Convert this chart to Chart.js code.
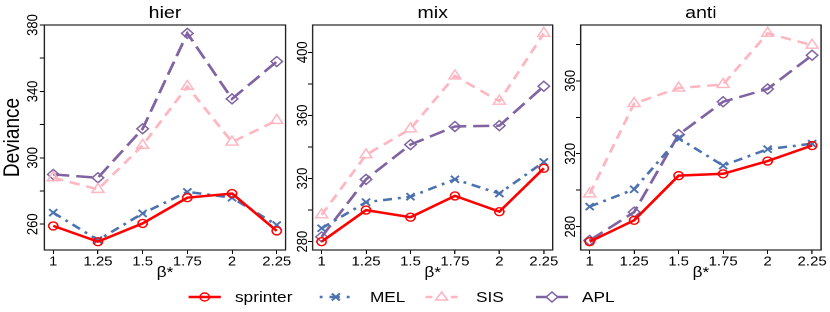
<!DOCTYPE html>
<html><head><meta charset="utf-8">
<script src="https://cdn.jsdelivr.net/npm/chart.js@4.4.1/dist/chart.umd.min.js"></script>
<style>
html,body{margin:0;padding:0;background:#fff;}
#wrap{position:absolute;left:0;top:0;width:722px;height:312px;transform:scaleX(1.15);transform-origin:0 0;overflow:hidden;background:#fff}
canvas{position:absolute;top:0}
.lt{position:absolute;font-family:'Liberation Sans',Arial,sans-serif;font-size:15px;line-height:18px;top:287.7px;color:#000;white-space:nowrap}
svg.ic{position:absolute;top:288.7px;overflow:visible}
</style></head><body>
<div id="wrap">
<canvas id="c1" width="258" height="290" style="left:0px"></canvas>
<canvas id="c2" width="260" height="290" style="left:230px"></canvas>
<canvas id="c3" width="258" height="290" style="left:464px"></canvas>
<div id="legend"></div>
</div>
<script>
// ---- data ----
const betas = [1, 1.25, 1.5, 1.75, 2, 2.25];
const xTickLabels = ['1', '1.25', '1.5', '1.75', '2', '2.25'];
const panelTitles = ['hier', 'mix', 'anti'];
const seriesNames = ['sprinter', 'MEL', 'SIS', 'APL'];

const hierSprinter = [259, 249.5, 260.5, 276, 278.5, 256];
const hierMEL      = [267, 250.5, 266.5, 279.5, 276, 259.5];
const hierSIS      = [288, 281, 307.5, 343, 309.5, 322.5];
const hierAPL      = [290, 288, 317.5, 375, 335.5, 358];

const mixSprinter = [280, 300, 295.5, 309, 299, 326.5];
const mixMEL      = [288.5, 305, 308.5, 319.5, 310.5, 330.5];
const mixSIS      = [297, 335, 351.5, 385, 369, 412];
const mixAPL      = [283, 319.5, 341.5, 353, 353.5, 378.5];

const antiSprinter = [271.8, 283.5, 308, 309, 316, 324.5];
const antiMEL      = [291, 300.5, 328.5, 313.5, 322.5, 325.5];
const antiSIS      = [298, 347.5, 356, 358, 386, 379.5];
const antiAPL      = [272.5, 288, 330.5, 348.5, 355.5, 374];

const hierYTicks  = [260, 280, 300, 320, 340, 360, 380];
const hierYLabels = ['260', '', '300', '', '340', '', '380'];
const mixYTicks   = [280, 300, 320, 340, 360, 380, 400];
const mixYLabels  = ['280', '', '320', '', '360', '', '400'];
const antiYTicks  = [280, 300, 320, 340, 360, 380];
const antiYLabels = ['280', '', '320', '', '360', ''];

// ---- styles ----
Chart.defaults.font.family = "'Liberation Sans', Arial, sans-serif";
Chart.defaults.color = '#000';
const colors = ['#FF0000', '#4C72B0', '#FFB6C1', '#8064A2'];
const styles = [
  {borderDash: [], pointStyle: 'circle', pointRadius: 4, pointBorderWidth: 1.4},
  {borderDash: [8, 5, 2.5, 5], pointStyle: 'crossRot', pointRadius: 5, pointBorderWidth: 1.8},
  {borderDash: [9, 6], pointStyle: 'triangle', pointRadius: 6, pointBorderWidth: 1.4},
  {borderDash: [14, 6], pointStyle: 'rectRot', pointRadius: 5, pointBorderWidth: 1.4}
];

const boxPlugin = {
  id: 'box',
  afterDraw(chart) {
    const {ctx, chartArea: a} = chart;
    ctx.save();
    ctx.strokeStyle = '#222';
    ctx.lineWidth = 1.2;
    ctx.strokeRect(a.left, a.top, a.right - a.left, a.bottom - a.top);
    ctx.restore();
  }
};

function makePanel(id, title, series, yTicks, yLabels, showYTitle, yWidth, rightPad, yPad) {
  const all = series.flat();
  const lo = Math.min(...all), hi = Math.max(...all), r = hi - lo;
  const datasets = series.map((vals, i) => Object.assign({
    label: seriesNames[i],
    data: vals.map((v, j) => ({x: betas[j], y: v})),
    borderColor: colors[i],
    pointBorderColor: colors[i],
    pointBackgroundColor: 'rgba(0,0,0,0)',
    backgroundColor: 'rgba(0,0,0,0)',
    borderWidth: 2.5,
    tension: 0,
    fill: false,
    clip: false
  }, styles[i]));
  const grid = {display: true, drawOnChartArea: false, drawTicks: true, tickLength: 4, color: '#000', lineWidth: 1};
  new Chart(document.getElementById(id), {
    type: 'line',
    data: {datasets},
    options: {
      responsive: false, animation: false, devicePixelRatio: 2,
      layout: {padding: {left: 0, right: rightPad, top: 0, bottom: 0}},
      plugins: {
        legend: {display: false}, tooltip: {enabled: false},
        title: {display: true, text: title, fullSize: false, font: {size: 17, weight: 'normal'}, color: '#000', padding: {top: 3, bottom: 1.6}}
      },
      scales: {
        x: {
          type: 'linear', min: 0.95, max: 2.3,
          afterBuildTicks: s => { s.ticks = betas.map(v => ({value: v})); },
          afterFit: s => { s.height = 40; },
          ticks: {autoSkip: false, maxRotation: 0, padding: 0, color: '#000', font: {size: 13}, callback: (v, i) => xTickLabels[i]},
          grid: grid,
          border: {display: false},
          title: {display: true, text: 'β*', font: {size: 15}, color: '#000', padding: {top: 0, bottom: 8}}
        },
        y: {
          type: 'linear', min: lo - 0.04 * r, max: hi + 0.04 * r,
          afterBuildTicks: s => { s.ticks = yTicks.map(v => ({value: v})); },
          afterFit: s => { s.width = yWidth; },
          ticks: {autoSkip: false, minRotation: 90, maxRotation: 90, crossAlign: 'center', padding: yPad, color: '#000', font: {size: 13}, callback: (v, i) => yLabels[i]},
          grid: grid,
          border: {display: false},
          title: {display: showYTitle, text: 'Deviance', font: {size: 19}, color: '#000', padding: 0}
        }
      }
    },
    plugins: [boxPlugin]
  });
}

makePanel('c1', panelTitles[0], [hierSprinter, hierMEL, hierSIS, hierAPL], hierYTicks, hierYLabels, true, 38.5, 9.6, -5.3);
makePanel('c2', panelTitles[1], [mixSprinter, mixMEL, mixSIS, mixAPL], mixYTicks, mixYLabels, false, 41.9, 9.4, -6.3);
makePanel('c3', panelTitles[2], [antiSprinter, antiMEL, antiSIS, antiAPL], antiYTicks, antiYLabels, false, 41, 8.1, -6.3);

// ---- legend ----
const legendIconLeft = [163.5, 277.8, 370.4, 465.7];
const legendTextLeft = [204.3, 321.7, 413.9, 506.1];
const iconDash = ['', '2.5 6 9 6 2.5', '6 5', '12 4'];
const lg = document.getElementById('legend');
seriesNames.forEach((name, i) => {
  const c = colors[i];
  let marker = '';
  if (i === 0) marker = `<circle cx="14" cy="8" r="4" fill="none" stroke="${c}" stroke-width="1.5"/>`;
  if (i === 1) marker = `<path d="M10.5 4.5 L17.5 11.5 M17.5 4.5 L10.5 11.5" stroke="${c}" stroke-width="1.8" fill="none"/>`;
  if (i === 2) marker = `<polygon points="14,3 19.2,11 8.8,11" fill="#fff" stroke="${c}" stroke-width="1.4"/>`;
  if (i === 3) marker = `<polygon points="14,3 19,8 14,13 9,8" fill="#fff" stroke="${c}" stroke-width="1.4"/>`;
  const svg = `<svg class="ic" width="28" height="16" style="left:${legendIconLeft[i]}px"><line x1="0" y1="8" x2="28" y2="8" stroke="${c}" stroke-width="2.5" ${iconDash[i] ? `stroke-dasharray="${iconDash[i]}"` : ''}/>${marker}</svg>`;
  lg.insertAdjacentHTML('beforeend', svg + `<div class="lt" style="left:${legendTextLeft[i]}px">${name}</div>`);
});
</script>
</body></html>
